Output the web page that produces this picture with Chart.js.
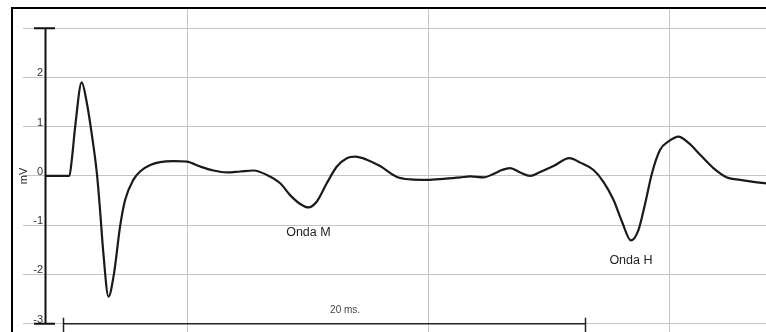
<!DOCTYPE html>
<html>
<head>
<meta charset="utf-8">
<script src="https://cdn.jsdelivr.net/npm/chart.js@4/dist/chart.umd.min.js"></script>
<style>
  html, body { margin: 0; padding: 0; background: #fff; }
  #wrap { width: 766px; height: 332px; position: relative; }
</style>
</head>
<body>
<div id="wrap"><canvas id="ecgChart"></canvas></div>
<script>
// time (ms, grid every 10) and voltage (mV)
const timeMs = [4.15, 5.12, 5.22, 5.36, 5.63, 5.84, 6.05, 6.26, 6.39, 6.53, 6.74, 6.97, 7.22, 7.43,
  7.77, 8.05, 8.47, 8.88, 9.43, 9.99, 10.54, 11.09, 11.65, 12.20, 12.75, 13.31, 13.86, 14.27,
  14.69, 15.03, 15.38, 15.79, 16.21, 16.62, 16.97, 17.45, 18.00, 18.70, 19.25, 19.94, 20.63,
  21.32, 21.74, 22.29, 22.70, 23.05, 23.39, 23.81, 24.22, 24.64, 25.19, 25.85, 26.30, 26.85,
  27.26, 27.68, 28.03, 28.40, 28.71, 28.99, 29.27, 29.61, 29.96, 30.37, 30.79, 31.27, 31.82,
  32.38, 32.93, 33.48, 34.01];
const voltage = [0, 0, 0.33, 1.0, 1.90, 1.49, 0.84, 0.05, -0.69, -1.58, -2.45, -1.98, -1.03, -0.49,
  -0.08, 0.09, 0.22, 0.28, 0.30, 0.29, 0.19, 0.11, 0.07, 0.09, 0.11, 0.02, -0.15, -0.39,
  -0.57, -0.64, -0.52, -0.15, 0.19, 0.36, 0.39, 0.33, 0.20, -0.02, -0.07, -0.08, -0.06,
  -0.03, -0.01, -0.03, 0.04, 0.12, 0.16, 0.07, 0.0, 0.08, 0.20, 0.36, 0.27, 0.12,
  -0.12, -0.49, -0.93, -1.31, -1.10, -0.56, 0.05, 0.53, 0.70, 0.80, 0.67, 0.43, 0.16,
  -0.03, -0.08, -0.12, -0.15];

const yTicks = [-3, -2, -1, 0, 1, 2, 3];
const xGridTicks = [10, 20, 30];

const waveLabels = ['Onda M', 'Onda H'];
const waveX = [15.03, 28.40];
const waveY = [-1.16, -1.71];

const spanLabel = '20 ms.';
const spanStart = 4.86;
const spanEnd = 26.50;
const spanTextX = 16.55;

const points = timeMs.map((t, i) => ({ x: t, y: voltage[i] }));

const overlay = {
  id: 'overlay',
  afterDraw(chart) {
    const ctx = chart.ctx;
    const xs = chart.scales.x, ys = chart.scales.y;
    ctx.save();

    // outer frame (runs off the right and bottom edges)
    ctx.strokeStyle = '#000';
    ctx.lineWidth = 2;
    ctx.strokeRect(12, 8, 800, 400);

    // vertical mV axis with end caps
    const yTop = ys.getPixelForValue(3);
    const yBot = ys.getPixelForValue(-3);
    const ax = 45.5;
    ctx.strokeStyle = '#111';
    ctx.lineWidth = 2;
    ctx.beginPath();
    ctx.moveTo(ax, yTop); ctx.lineTo(ax, yBot);
    ctx.moveTo(34, yTop); ctx.lineTo(55, yTop);
    ctx.moveTo(34, yBot); ctx.lineTo(55, yBot);
    ctx.stroke();

    // axis title
    ctx.fillStyle = '#222';
    ctx.font = '11px Arial, "Liberation Sans", sans-serif';
    ctx.textAlign = 'center';
    ctx.textBaseline = 'middle';
    ctx.save();
    ctx.translate(23.5, ys.getPixelForValue(0));
    ctx.rotate(-Math.PI / 2);
    ctx.fillText('mV', 0, 0);
    ctx.restore();

    // 20 ms bracket
    const bx1 = Math.round(xs.getPixelForValue(spanStart)) + 0.5;
    const bx2 = Math.round(xs.getPixelForValue(spanEnd)) + 0.5;
    const by = yBot;
    ctx.strokeStyle = '#222';
    ctx.lineWidth = 1.5;
    ctx.beginPath();
    ctx.moveTo(bx1, by); ctx.lineTo(bx2, by);
    ctx.moveTo(bx1, by - 6); ctx.lineTo(bx1, chart.height);
    ctx.moveTo(bx2, by - 6); ctx.lineTo(bx2, chart.height);
    ctx.stroke();
    ctx.fillStyle = '#444';
    ctx.font = '10px Arial, "Liberation Sans", sans-serif';
    ctx.fillText(spanLabel, xs.getPixelForValue(spanTextX), by - 13);

    // wave labels
    ctx.fillStyle = '#222';
    ctx.font = '12.5px Arial, "Liberation Sans", sans-serif';
    waveLabels.forEach((lab, i) => {
      ctx.fillText(lab, xs.getPixelForValue(waveX[i]), ys.getPixelForValue(waveY[i]));
    });
    ctx.restore();
  }
};

new Chart(document.getElementById('ecgChart'), {
  type: 'line',
  data: {
    datasets: [{
      data: points,
      borderColor: '#1a1a1a',
      borderWidth: 2.2,
      pointRadius: 0,
      fill: false,
      cubicInterpolationMode: 'monotone'
    }]
  },
  options: {
    responsive: true,
    maintainAspectRatio: false,
    animation: false,
    layout: { padding: { top: 9, left: 0, right: 0, bottom: 0 } },
    plugins: {
      legend: { display: false },
      tooltip: { enabled: false }
    },
    scales: {
      x: {
        type: 'linear',
        min: 4.15,
        max: 34.0,
        afterBuildTicks: s => { s.ticks = xGridTicks.map(v => ({ value: v })); },
        afterFit: s => { s.height = 0; },
        ticks: { display: false },
        border: { display: false },
        grid: { color: '#c4c4c4', lineWidth: 1, drawTicks: false }
      },
      y: {
        min: -3.17,
        max: 3.39,
        afterBuildTicks: s => { s.ticks = yTicks.map(v => ({ value: v })); },
        afterFit: s => { s.width = 46; },
        border: { display: false },
        grid: { color: '#c4c4c4', lineWidth: 1, tickLength: 23 },
        ticks: {
          padding: -20,
          labelOffset: -4,
          color: '#333',
          font: { family: 'Arial, "Liberation Sans", sans-serif', size: 11 },
          callback: v => (v === 3 ? '' : String(v))
        }
      }
    }
  },
  plugins: [overlay]
});
</script>
</body>
</html>
